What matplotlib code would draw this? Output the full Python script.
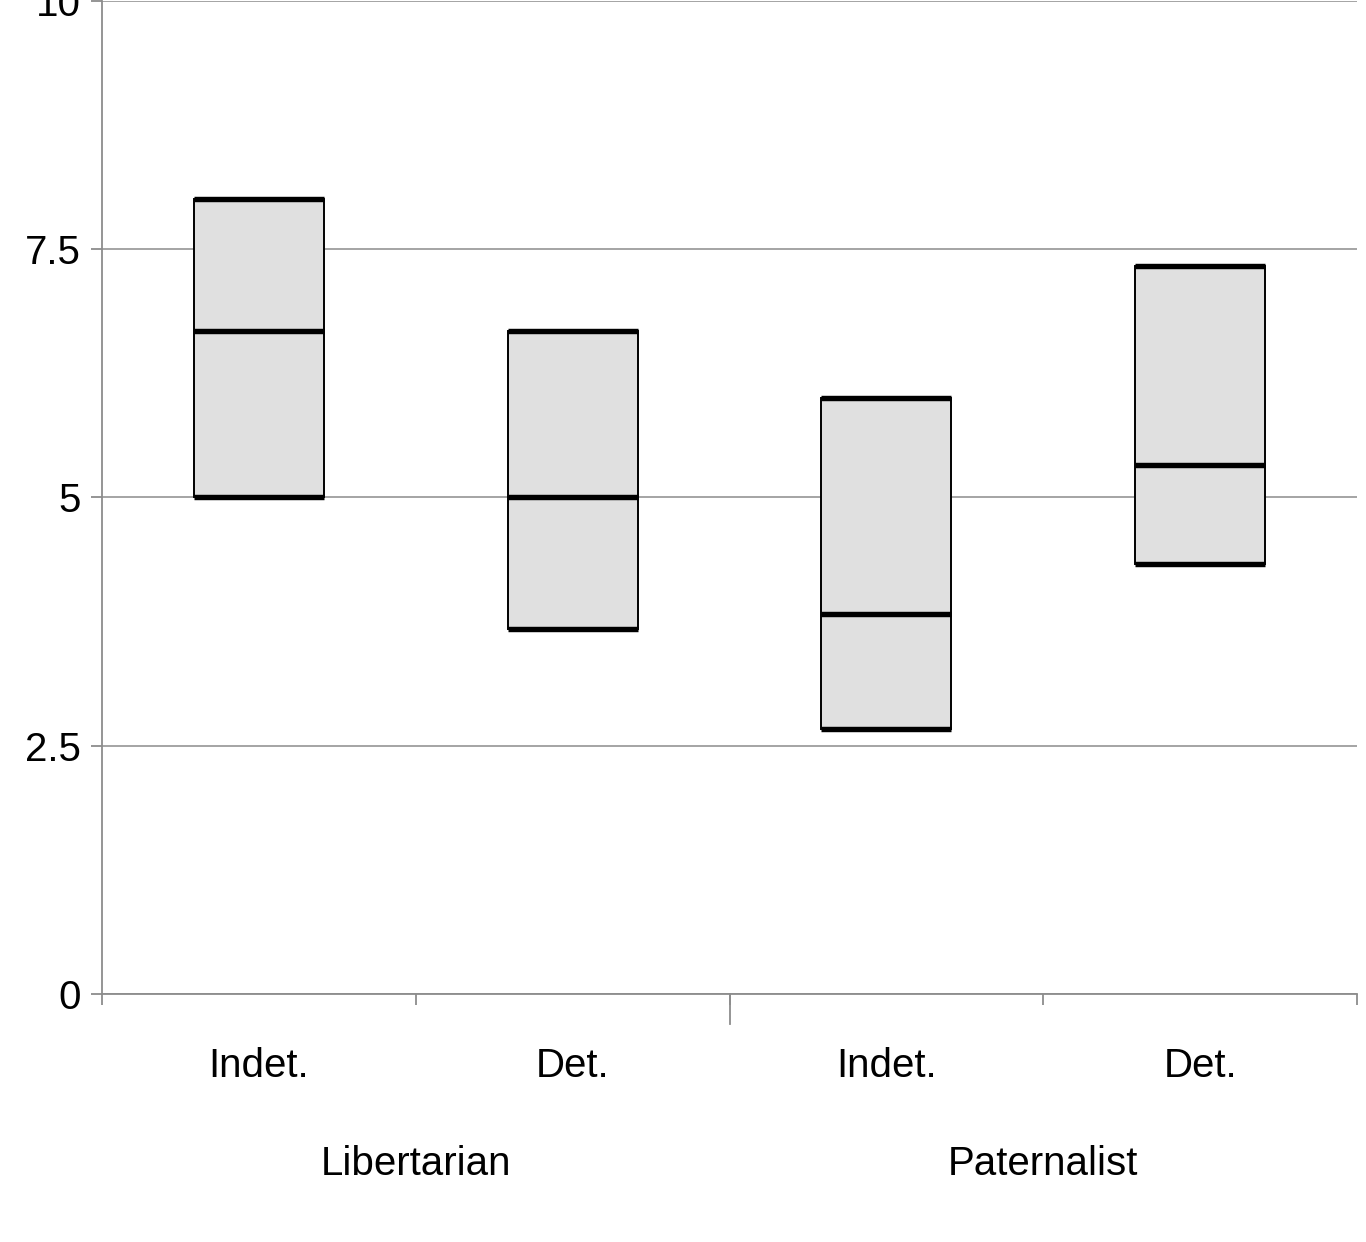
import matplotlib.pyplot as plt
import matplotlib.transforms as mtransforms

plt.rcParams["font.family"] = ["Liberation Sans", "DejaVu Sans"]
plt.rcParams["font.size"] = 29

categories = ["Indet.", "Det.", "Indet.", "Det."]
groups = ["Libertarian", "Paternalist"]
low = [5.0, 3.67, 2.67, 4.33]
median = [6.67, 5.0, 3.83, 5.33]
high = [8.0, 6.67, 6.0, 7.33]

fig = plt.figure(figsize=(13.66, 12.42), dpi=100)
ax = fig.add_axes([102/1366, 248/1242, 1255/1366, 994/1242 - 0.0005])

x = range(len(categories))
w = 0.415
heights = [h - l for h, l in zip(high, low)]
ax.bar(x, heights, bottom=low, width=w, color="#e0e0e0", edgecolor="black", linewidth=1.4, zorder=3)
for i in x:
    for v in (low[i], median[i], high[i]):
        ax.plot([i - w/2, i + w/2], [v, v], color="black", lw=3.9, solid_capstyle="butt", zorder=4)

ax.set_xlim(-0.5, 3.5)
ax.set_ylim(0, 10)
ax.set_yticks([0, 2.5, 5, 7.5, 10])
ax.set_yticklabels(["0", "2.5", "5", "7.5", "10"])
ax.yaxis.grid(True, color="#8c8c8c", lw=1.1, zorder=0)

ax.set_xticks([-0.5, 0.5, 1.5, 2.5, 3.5])
ax.set_xticklabels([])
ax.set_xticks(list(x), minor=True)
ax.set_xticklabels(categories, minor=True)
ax.tick_params(axis="x", which="minor", length=0, pad=38)
ax.tick_params(axis="x", which="major", length=8, width=1.3, color="#8c8c8c")
ax.tick_params(axis="y", length=8, width=1.3, color="#8c8c8c", pad=7)

for s in ("top", "right"):
    ax.spines[s].set_visible(False)
for s in ("left", "bottom"):
    ax.spines[s].set_color("#8c8c8c")
    ax.spines[s].set_linewidth(1.3)

trans = mtransforms.blended_transform_factory(ax.transData, ax.transAxes)
ax.plot([1.5, 1.5], [0, -30/994], transform=trans, color="#8c8c8c", lw=1.3, clip_on=False)
for gi, g in enumerate(groups):
    ax.text(gi*2 + 0.5, -170/994, g, transform=trans, ha="center", va="center")

fig.savefig("out.png", dpi=100)
